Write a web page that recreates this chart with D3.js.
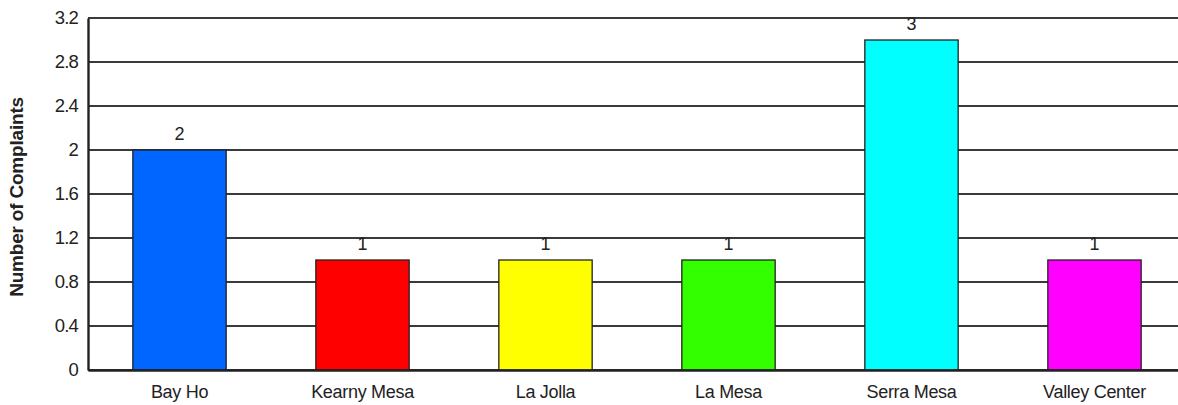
<!DOCTYPE html>
<html>
<head>
<meta charset="utf-8">
<script src="https://cdn.jsdelivr.net/npm/d3@7"></script>
<style>
body { margin:0; background:#fff; }
svg text { font-family: "Liberation Sans", Arial, sans-serif; fill:#222; }
</style>
</head>
<body>
<div id="chart"></div>
<script>
// data
var categories = ["Bay Ho", "Kearny Mesa", "La Jolla", "La Mesa", "Serra Mesa", "Valley Center"]
var values = [2, 1, 1, 1, 3, 1]
var colors = ["#0066ff", "#ff0000", "#ffff00", "#33ff00", "#00ffff", "#ff00ff"]
var yTicks = [0, 0.4, 0.8, 1.2, 1.6, 2, 2.4, 2.8, 3.2]

var margin = {top: 18, right: 0, bottom: 35, left: 88},
    width = 1098,
    height = 405 - margin.top - margin.bottom;

var svg = d3.select("#chart").append("svg")
    .attr("width", 1178).attr("height", 405)
    .append("g")
    .attr("transform", "translate(" + margin.left + "," + margin.top + ")");

var x = d3.scaleBand().domain(categories).range([0, width]).paddingInner(0.49).paddingOuter(0.245)
var y = d3.scaleLinear().domain([0, 3.2]).range([height, 0])

// gridlines
svg.selectAll(".grid").data(yTicks).enter().append("line")
    .attr("x1", 0).attr("x2", width)
    .attr("y1", function(d){ return y(d) }).attr("y2", function(d){ return y(d) })
    .attr("stroke", "#3a3a3a").attr("stroke-width", 1.8)

// bars
svg.selectAll(".bar").data(values).enter().append("rect")
    .attr("x", function(d, i){ return x(categories[i]) })
    .attr("y", function(d){ return y(d) })
    .attr("width", x.bandwidth())
    .attr("height", function(d){ return height - y(d) })
    .attr("fill", function(d, i){ return colors[i] })
    .attr("stroke", "#222").attr("stroke-width", 1.3)

// value labels
svg.selectAll(".val").data(values).enter().append("text")
    .attr("x", function(d, i){ return x(categories[i]) + x.bandwidth()/2 })
    .attr("y", function(d){ return y(d) - 10 })
    .attr("text-anchor", "middle").style("font-size", "18px")
    .text(function(d){ return d })

// y axis
var yAxis = d3.axisLeft(y).tickValues(yTicks).tickSize(0).tickPadding(10)
    .tickFormat(function(d){ return d3.format("~g")(d) })
var ya = svg.append("g").call(yAxis)
ya.select(".domain").attr("stroke", "#222").attr("stroke-width", 2.4)
ya.selectAll("text").style("font-size", "18.5px").style("letter-spacing", "-0.8px")

// x axis
var xa = svg.append("g").attr("transform", "translate(0," + height + ")")
    .call(d3.axisBottom(x).tickSize(0).tickPadding(15))
xa.select(".domain").attr("stroke", "#222").attr("stroke-width", 2.4)
xa.selectAll("text").style("font-size", "18px").style("letter-spacing", "-0.3px")

// axis title
svg.append("text")
    .attr("transform", "translate(" + (-65) + "," + 179 + ") rotate(-90)")
    .attr("text-anchor", "middle")
    .style("font-size", "19px").style("font-weight", "bold").style("letter-spacing", "-0.2px")
    .text("Number of Complaints")
</script>
</body>
</html>
